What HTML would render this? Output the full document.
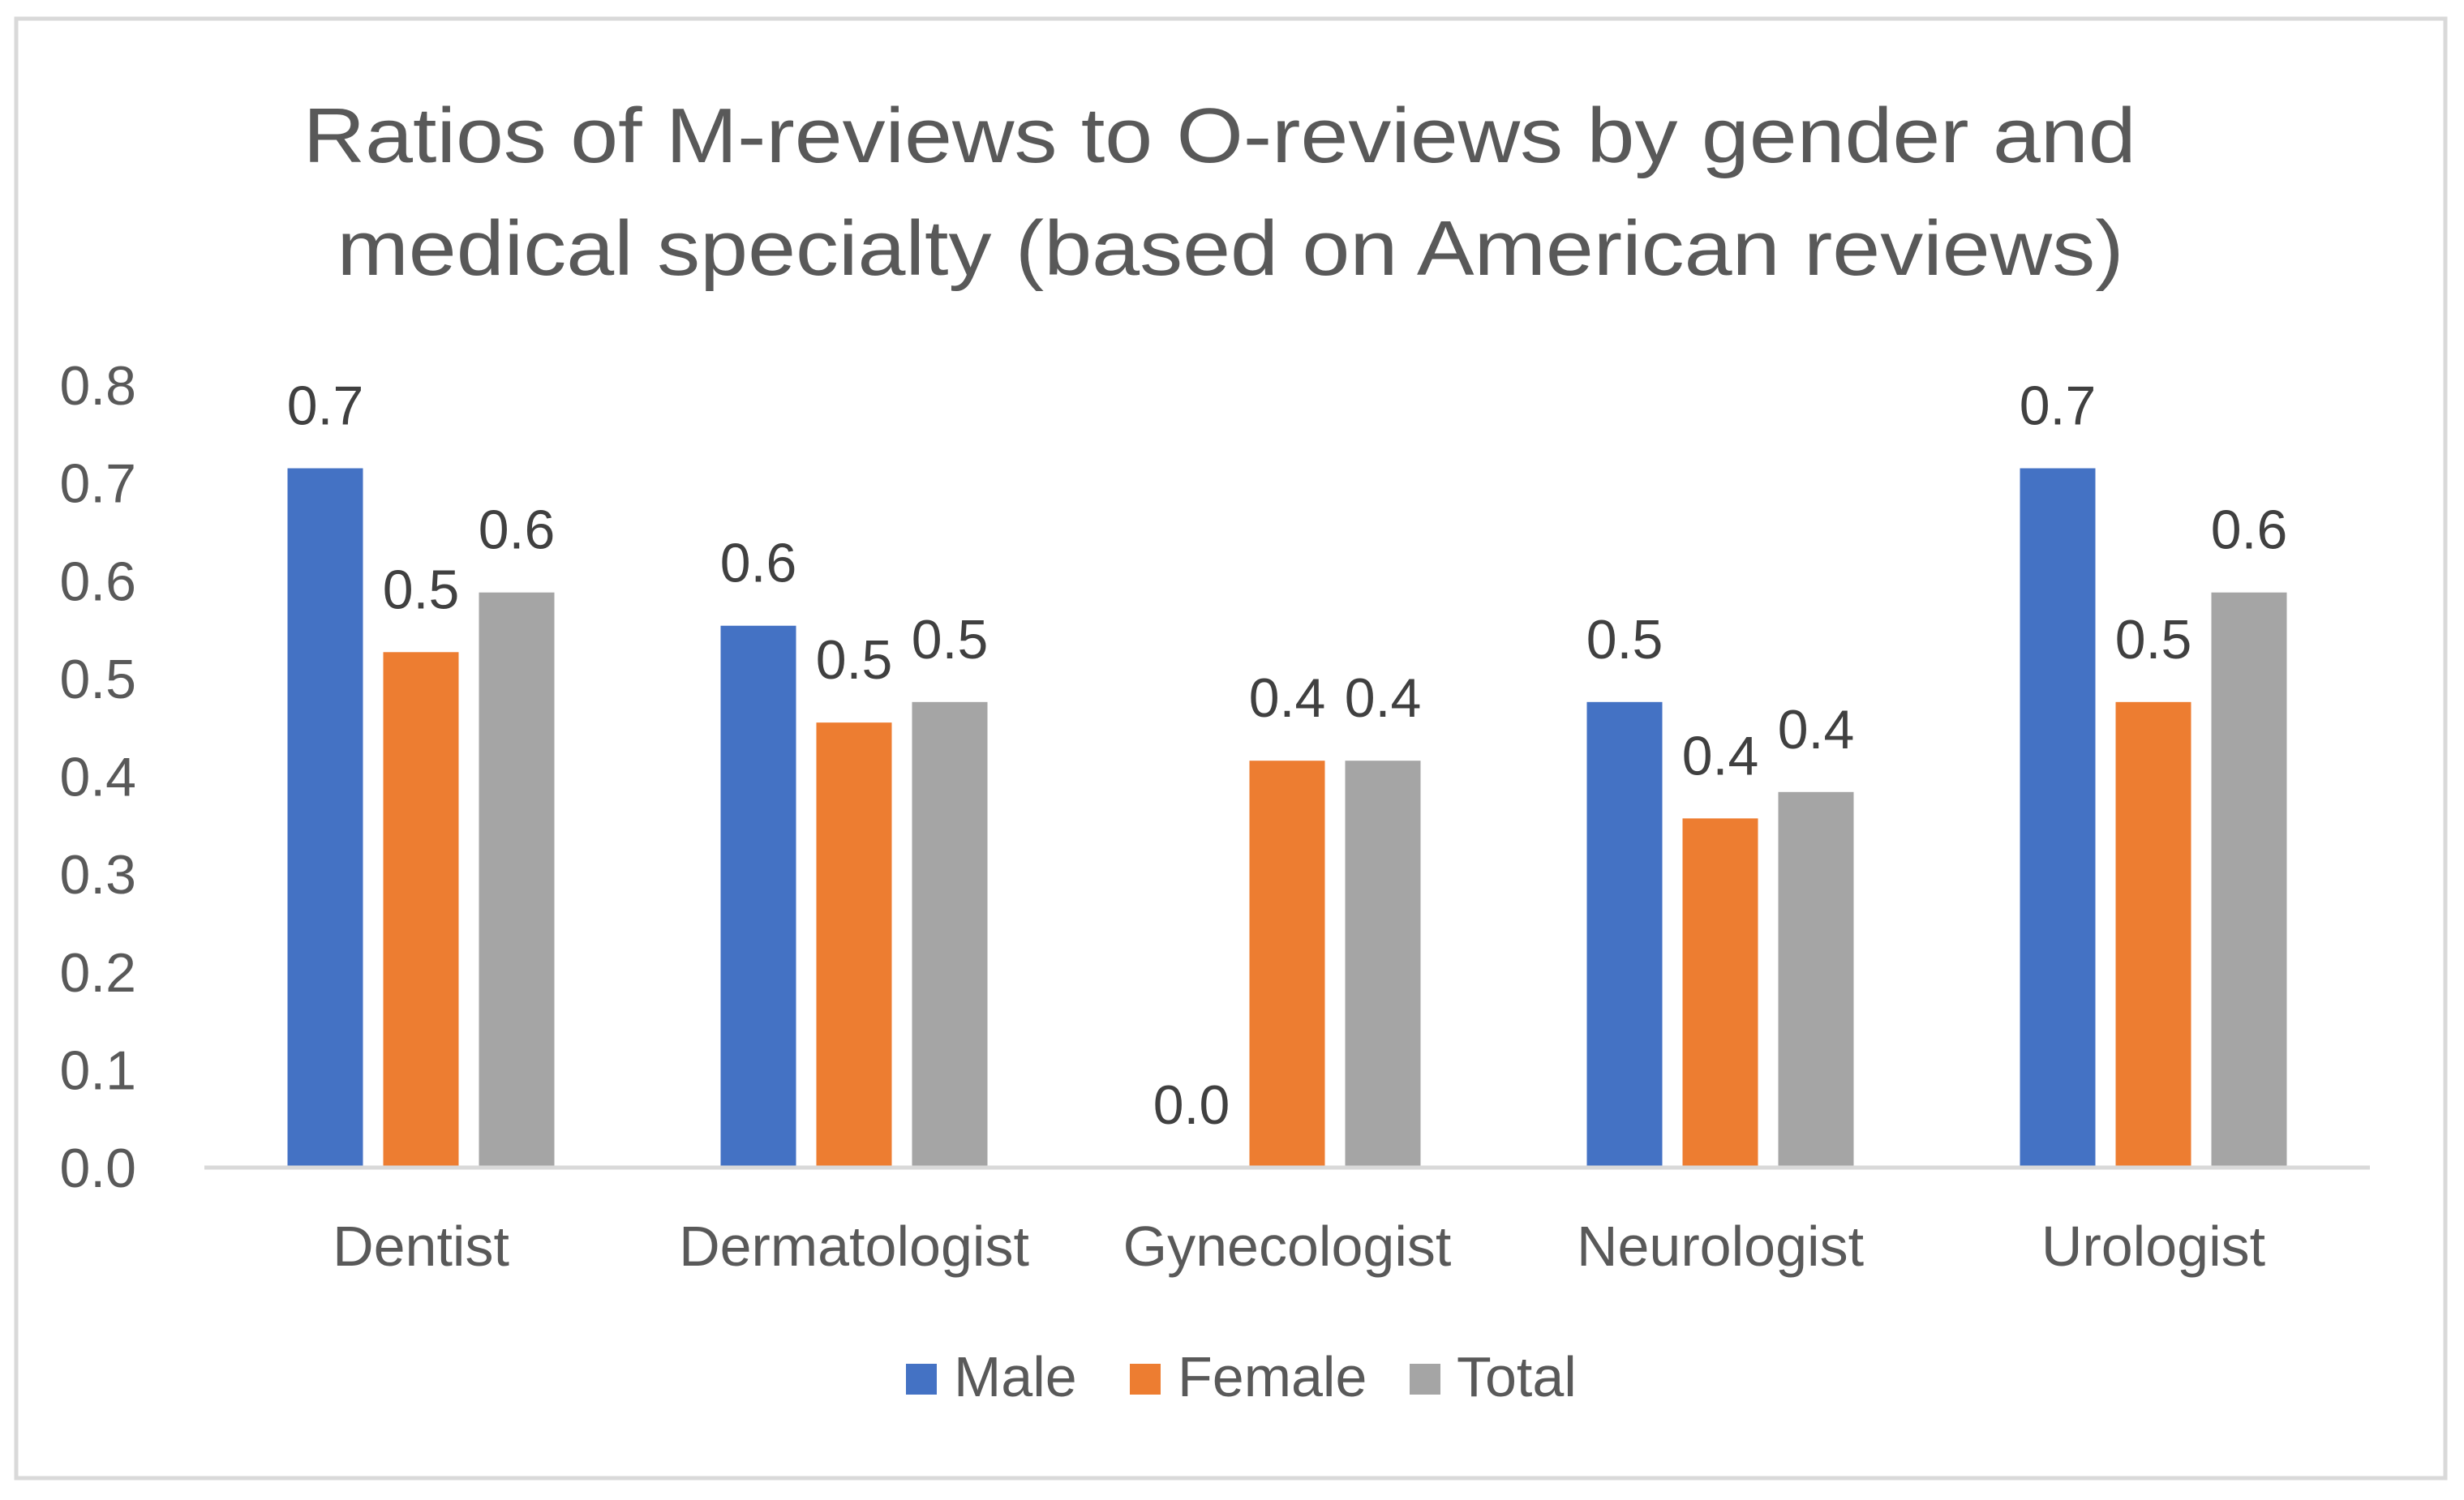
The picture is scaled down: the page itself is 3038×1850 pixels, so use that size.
<!DOCTYPE html>
<html><head><meta charset="utf-8"><style>
html,body{margin:0;padding:0;background:#fff;}
svg{display:block;font-family:"Liberation Sans",sans-serif;}
</style></head><body>
<svg id="chart" width="3038" height="1850" viewBox="0 0 3038 1850" xmlns="http://www.w3.org/2000/svg">
<rect x="20" y="23" width="2995" height="1800" fill="#fff" stroke="#d9d9d9" stroke-width="5"/>
<text fill="#595959" font-size="96" text-anchor="middle">
<tspan x="1517" y="200" textLength="2260" lengthAdjust="spacingAndGlyphs">Ratios of M-reviews to O-reviews by gender and</tspan>
<tspan x="1517" y="339" textLength="2203" lengthAdjust="spacingAndGlyphs">medical specialty (based on American reviews)</tspan>
</text>
<g id="yticks"></g>
<g id="bars"></g>
<g id="labels"></g>
<line x1="252" y1="1440" x2="2922" y2="1440" stroke="#d9d9d9" stroke-width="5"/>
<g id="xcats"></g>
<g>
<rect x="1117" y="1682" width="38" height="38" fill="#4472c4"/>
<text x="1176" y="1722" font-size="70" fill="#595959">Male</text>
<rect x="1393" y="1682" width="38" height="38" fill="#ed7d31"/>
<text x="1452" y="1722" font-size="70" fill="#595959">Female</text>
<rect x="1738" y="1682" width="38" height="38" fill="#a5a5a5"/>
<text x="1796" y="1722" font-size="70" fill="#595959">Total</text>
</g>
</svg>
<script>
const categories = ["Dentist","Dermatologist","Gynecologist","Neurologist","Urologist"];
const maleValues = [0.715,0.554,0,0.476,0.715];
const femaleValues = [0.527,0.455,0.416,0.357,0.476];
const totalValues = [0.588,0.476,0.416,0.384,0.588];
const yTickLabels = ["0.0","0.1","0.2","0.3","0.4","0.5","0.6","0.7","0.8"];
const seriesNames = ["male","female","total"];
const seriesColors = ["#4472c4","#ed7d31","#a5a5a5"];

const NS="http://www.w3.org/2000/svg";
const x0=252,x1=2922,yBase=1440,yTop=475,yMax=0.8;
const y=v=>yBase-(v/yMax)*(yBase-yTop);
const catW=(x1-x0)/categories.length;
const xc=i=>x0+catW*(i+0.5);
const barW=93,step=118;
function mk(tag,attrs,parent,txt){const e=document.createElementNS(NS,tag);for(const k in attrs)e.setAttribute(k,attrs[k]);if(txt!==undefined)e.textContent=txt;document.getElementById(parent).appendChild(e);return e;}

yTickLabels.forEach(t=>{
  const e=mk("text",{x:168,y:y(parseFloat(t))+24,"font-size":"68",fill:"#595959","text-anchor":"end"},"yticks",t);
  
  
});
const series=[maleValues,femaleValues,totalValues];
categories.forEach((c,i)=>{
  const e=mk("text",{x:xc(i),y:1561,"font-size":"70",fill:"#595959","text-anchor":"middle"},"xcats",c);
  
  
  series.forEach((vals,s)=>{
    const cx=xc(i)+(s-1)*step;
    const v=vals[i];
    const r=mk("rect",{x:cx-barW/2,y:y(v),width:barW,height:Math.max(0,yBase-y(v)),fill:seriesColors[s]},"bars");
    
    
    const l=mk("text",{x:cx,y:y(v)-54,"font-size":"68",fill:"#404040","text-anchor":"middle"},"labels",v.toFixed(1));
    
    
  });
});
</script>
</body></html>
